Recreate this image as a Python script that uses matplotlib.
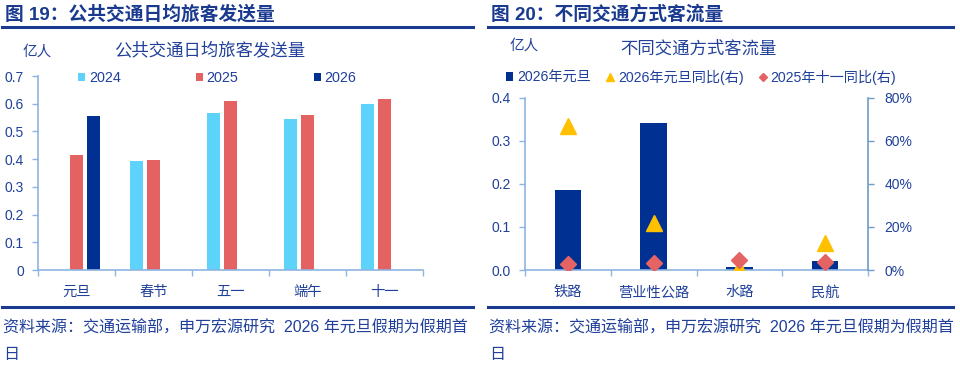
import numpy as np
import matplotlib
matplotlib.use("Agg")
import matplotlib.pyplot as plt
from matplotlib.ticker import FuncFormatter

plt.rcParams['font.family'] = ['Liberation Sans', 'Noto Sans CJK SC', 'DejaVu Sans']

# ---------------- data ----------------
holidays = ['元旦', '春节', '五一', '端午', '十一']
series_years = ['2024', '2025', '2026']
v2024 = [np.nan, 0.392, 0.566, 0.545, 0.598]
v2025 = [0.415, 0.398, 0.608, 0.558, 0.616]
v2026 = [0.556, np.nan, np.nan, np.nan, np.nan]

modes = ['铁路', '营业性公路', '水路', '民航']
flow_2026 = [0.186, 0.341, 0.007, 0.020]
yoy_2026 = [0.67, 0.22, 0.01, 0.124]
yoy_2025_oct = [0.028, 0.031, 0.046, 0.036]

left_title = '图 19：公共交通日均旅客发送量'
right_title = '图 20：不同交通方式客流量'
left_inner = '公共交通日均旅客发送量'
right_inner = '不同交通方式客流量'
unit = '亿人'
right_legend = ['2026年元旦', '2026年元旦同比(右)', '2025年十一同比(右)']
source = '资料来源：交通运输部，申万宏源研究  2026 年元旦假期为假期首'
source2 = '日'

# ---------------- style ----------------
W, H = 960, 370
C_CYAN = '#5DD3FB'
C_RED = '#E46262'
C_NAVY = '#003092'
C_YEL = '#FFC000'
C_DIA = '#E46464'
C_AXIS = '#8DB4E2'
C_AXIS_R = '#6E9CC4'
C_TXT = '#20409A'
C_TITLE = '#1A3A8F'

fig = plt.figure(figsize=(W / 100, H / 100), dpi=100)
fig.patch.set_facecolor('white')


def fx(px):
    return px / W


def fy(py):
    return 1 - py / H


def style_axes(ax, color):
    for s in ['top', 'right']:
        ax.spines[s].set_visible(False)
    for s in ['left', 'bottom']:
        ax.spines[s].set_color(color)
        ax.spines[s].set_linewidth(1.2)
    ax.tick_params(axis='y', colors=color, labelcolor=C_TXT, labelsize=10,
                   length=4, width=1.0, pad=6, direction='out')
    ax.tick_params(axis='x', which='both', colors=color, labelcolor=C_TXT,
                   labelsize=10.3, width=1.0, direction='out')


# ---------------- left chart ----------------
axL = fig.add_axes([fx(38), fy(270), fx(385), 194 / H])
n = len(holidays)
x = np.arange(n)
bw, off = 0.18, 0.22
b1 = axL.bar(x - off, v2024, bw, color=C_CYAN, label=series_years[0])
b2 = axL.bar(x, v2025, bw, color=C_RED, label=series_years[1])
b3 = axL.bar(x + off, v2026, bw, color=C_NAVY, label=series_years[2])
axL.set_xlim(-0.5, n - 0.5)
axL.set_ylim(0, 0.7)
axL.set_yticks(np.arange(0, 0.71, 0.1))
axL.yaxis.set_major_formatter(FuncFormatter(lambda v, p: '0' if v == 0 else f'{v:.1f}'))
style_axes(axL, C_AXIS)
axL.set_xticks(x)
axL.set_xticklabels(holidays)
axL.tick_params(axis='x', which='major', length=0, pad=11)
axL.set_xticks(np.arange(-0.5, n, 1), minor=True)
axL.tick_params(axis='x', which='minor', length=4)
axL.legend(handles=[b1, b2, b3], loc='center left', bbox_to_anchor=(fx(78), fy(78)),
           bbox_transform=fig.transFigure, ncol=3, frameon=False, fontsize=10.4,
           handlelength=0.5, handleheight=0.5, handletextpad=0.25,
           columnspacing=5.2, borderpad=0, borderaxespad=0, labelcolor=C_TXT)

# ---------------- right chart ----------------
axR = fig.add_axes([fx(525), fy(270), fx(343), 172.3 / H])
m = len(modes)
xr = np.arange(m)
br = axR.bar(xr, flow_2026, 0.31, color=C_NAVY, label=right_legend[0], zorder=2)
axR.set_xlim(-0.5, m - 0.5)
axR.set_ylim(0, 0.4)
axR.set_yticks(np.arange(0, 0.41, 0.1))
axR.yaxis.set_major_formatter(FuncFormatter(lambda v, p: f'{v:.1f}'))
style_axes(axR, C_AXIS)
axR.set_xticks(xr)
axR.set_xticklabels(modes)
axR.tick_params(axis='x', which='major', length=0, pad=11)
axR.set_xticks(np.arange(-0.5, m, 1), minor=True)
axR.tick_params(axis='x', which='minor', length=4)

axR2 = axR.twinx()
axR2.set_ylim(0, 0.8)
axR2.set_yticks(np.arange(0, 0.81, 0.2))
axR2.yaxis.set_major_formatter(FuncFormatter(lambda v, p: f'{v * 100:.0f}%'))
for s in ['top', 'left', 'bottom']:
    axR2.spines[s].set_visible(False)
axR2.spines['right'].set_color(C_AXIS_R)
axR2.spines['right'].set_linewidth(1.2)
axR2.tick_params(axis='y', colors=C_AXIS_R, labelcolor=C_TXT, labelsize=10,
                 length=4, width=1.0, pad=8)
lt, = axR2.plot(xr, yoy_2026, linestyle='none', marker='^', markersize=11,
                color=C_YEL, label=right_legend[1], zorder=3)
ld, = axR2.plot(xr, yoy_2025_oct, linestyle='none', marker='D', markersize=8,
                color=C_DIA, label=right_legend[2], zorder=4)
axR2.legend(handles=[br, lt, ld], loc='center left', bbox_to_anchor=(fx(506), fy(77)),
            bbox_transform=fig.transFigure, ncol=3, frameon=False, fontsize=10.2,
            handlelength=0.5, handleheight=0.5, handletextpad=0.3,
            columnspacing=1.1, borderpad=0, borderaxespad=0, markerscale=0.55,
            labelcolor=C_TXT)

# ---------------- titles / texts ----------------
for x0, x1, title in [(2, 473, left_title), (488, 953, right_title)]:
    fig.text(fx(x0 + 3), fy(14), title, fontsize=13.5, fontweight='bold',
             color=C_TITLE, va='center', ha='left',
             family=['Liberation Sans', 'Noto Sans CJK SC'])
    fig.add_artist(plt.Line2D([fx(x0), fx(x1)], [fy(26.5), fy(26.5)],
                              color=C_TITLE, linewidth=2.2))
    fig.add_artist(plt.Line2D([fx(x0), fx(x1)], [fy(307), fy(307)],
                              color=C_TITLE, linewidth=2.2))
    fig.text(fx(x0 + 1), fy(328), source, fontsize=11.55, color=C_TXT,
             va='center', ha='left')
    fig.text(fx(x0 + 1), fy(355), source2, fontsize=11.55, color=C_TXT,
             va='center', ha='left')

fig.text(fx(23), fy(52), unit, fontsize=10.5, color=C_TXT, va='center', ha='left')
fig.text(fx(210), fy(50), left_inner, fontsize=12.5, color=C_TXT, va='center', ha='center')
fig.text(fx(510), fy(46), unit, fontsize=10.5, color=C_TXT, va='center', ha='left')
fig.text(fx(698), fy(48), right_inner, fontsize=12.5, color=C_TXT, va='center', ha='center')

fig.savefig('out.png', dpi=100, facecolor='white')
